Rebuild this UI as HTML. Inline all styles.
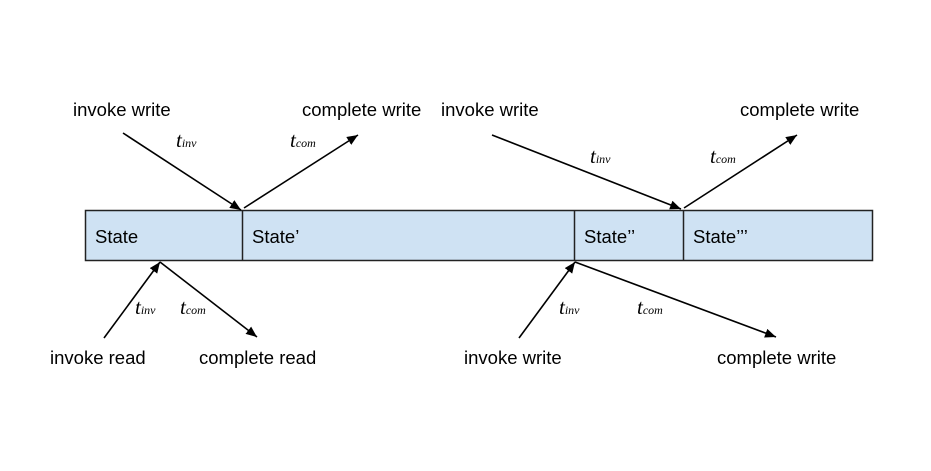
<!DOCTYPE html>
<html><head><meta charset="utf-8"><style>
html,body{margin:0;padding:0;background:#fff}
svg{display:block}
.l{font-family:"Liberation Sans",Arial,sans-serif;font-size:18.5px;fill:#000}
.t{font-family:"Liberation Serif",serif;font-style:italic;font-size:21px;fill:#000}
.s{font-size:12px}
</style></head><body>
<svg width="931" height="471" viewBox="0 0 931 471" xmlns="http://www.w3.org/2000/svg">
<defs><marker id="a" viewBox="0 0 10 10" refX="10" refY="5" markerWidth="11" markerHeight="11" markerUnits="userSpaceOnUse" orient="auto"><path d="M0,0.8L10,5L0,9.2z" fill="#000"/></marker></defs>
<rect x="85.5" y="210.5" width="787" height="50" fill="#cfe2f3" stroke="#222" stroke-width="1.5"/>
<g stroke="#222" stroke-width="1.5"><line x1="242.5" y1="210" x2="242.5" y2="261"/><line x1="574.5" y1="210" x2="574.5" y2="261"/><line x1="683.5" y1="210" x2="683.5" y2="261"/></g>
<g stroke="#000" stroke-width="1.6" marker-end="url(#a)">
<line x1="123" y1="133" x2="241" y2="210"/>
<line x1="244" y1="208" x2="358" y2="135"/>
<line x1="104" y1="338" x2="160" y2="262"/>
<line x1="160" y1="262" x2="257" y2="337"/>
<line x1="492" y1="135" x2="681" y2="209"/>
<line x1="684" y1="208" x2="797" y2="135"/>
<line x1="519" y1="338" x2="575" y2="262"/>
<line x1="575" y1="262" x2="776" y2="337"/>
</g>
<g class="l">
<text x="95" y="243">State</text><text x="252" y="243">State’</text><text x="584" y="243">State’’</text><text x="693" y="243">State’’’</text>
<text x="73" y="116">invoke write</text><text x="302" y="116">complete write</text>
<text x="441" y="116">invoke write</text><text x="740" y="116">complete write</text>
<text x="50" y="364">invoke read</text><text x="199" y="364">complete read</text>
<text x="464" y="364">invoke write</text><text x="717" y="364">complete write</text>
</g>
<g class="t">
<text x="176" y="147">t<tspan class="s">inv</tspan></text>
<text x="290" y="147">t<tspan class="s">com</tspan></text>
<text x="590" y="163">t<tspan class="s">inv</tspan></text>
<text x="710" y="163">t<tspan class="s">com</tspan></text>
<text x="135" y="314">t<tspan class="s">inv</tspan></text>
<text x="180" y="314">t<tspan class="s">com</tspan></text>
<text x="559" y="314">t<tspan class="s">inv</tspan></text>
<text x="637" y="314">t<tspan class="s">com</tspan></text>
</g>
</svg>
</body></html>
